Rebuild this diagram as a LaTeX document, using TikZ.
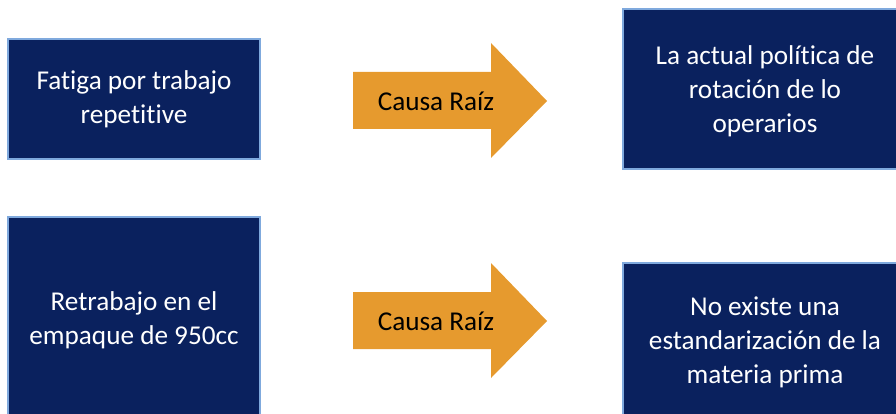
\documentclass[tikz,border=0pt]{standalone}
\usepackage{fontspec}
\setmainfont[Ligatures=NoCommon]{Carlito}
\definecolor{navy}{HTML}{0A215E}
\definecolor{edgeblue}{HTML}{7FA9DD}
\definecolor{causeorange}{HTML}{E69A2E}
\tikzset{
  x=1pt, y=-1pt,
  navybox/.style={fill=navy, draw=edgeblue, line width=1.2pt},
  boxtext/.style={text=white, align=center, font=\fontsize{27.2}{34}\selectfont, inner sep=0pt},
  causearrow/.style={fill=causeorange, draw=none},
  arrowtext/.style={text=black, font=\fontsize{27.2}{34}\selectfont, inner sep=0pt}
}
\begin{document}
\begin{tikzpicture}
\useasboundingbox (0,0) rectangle (896,414);
\begin{scope}
\clip (0,0) rectangle (896,414);
% boxes
\draw[navybox] (8,39) rectangle (260,159);
\draw[navybox] (623,9) rectangle (908,169);
\draw[navybox] (8,217) rectangle (260,424);
\draw[navybox] (623,263) rectangle (908,422);
\end{scope}
\node[boxtext] (a) at (134,99) {Fatiga por trabajo\\repetitive};
\node[boxtext] (b) at (765,91) {La actual política de\\rotación de lo\\operarios};
\node[boxtext] (c) at (134,320) {Retrabajo en el\\empaque de 950cc};
\node[boxtext] (d) at (765,342) {No existe una\\estandarización de la\\materia prima};
% arrows
\fill[causearrow] (353,72) -- (491,72) -- (491,43) -- (547,101) -- (491,158) -- (491,129) -- (353,129) -- cycle;
\fill[causearrow] (353,292) -- (491,292) -- (491,263) -- (547,321) -- (491,378) -- (491,349) -- (353,349) -- cycle;
\node[arrowtext] (r1) at (436,101) {Causa Raíz};
\node[arrowtext] (r2) at (436,321) {Causa Raíz};
\end{tikzpicture}
\end{document}
